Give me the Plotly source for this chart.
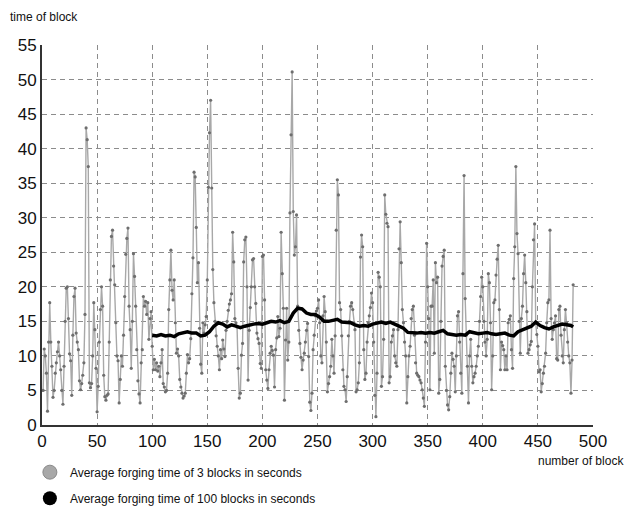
import plotly.graph_objects as go

# ---- data: average forging time of 3 blocks (gray), one value per block 1..482
gray_seg_a = [5, 11, 10, 7.5, 2, 12, 17.7, 12, 8.5, 4,
              5, 7.5, 9, 10.6, 12, 10, 8, 5, 3, 8.5,
              15, 19.8, 20, 15.4, 10.3, 9.3, 4.3, 13, 18.6, 19.8,
              13.3, 12, 10.9, 6.4, 5.1, 6, 7.2, 9, 16, 43,
              41.3, 37.4, 6.1, 5.4, 6, 10, 17.7, 13.8, 8.2, 1.9,
              5.6, 12, 16.7, 20, 17.2, 7.2, 4.1, 3.6, 4.3, 4.5,
              12, 21, 27.3, 28.2, 23, 20.3, 14.8, 10, 9.3, 3.2,
              6.6, 10, 8.5, 13, 18.6, 24.7, 27, 28.5, 17.2, 13.8,
              8.2, 15, 24.8, 21.5]
gray_seg_b = [17.2, 10.9, 6.4, 4.5, 3.2, 9, 10.9, 18.6, 17.2, 17.9,
              16, 17.7, 12.4, 15.4, 16.4, 11.4, 8, 9.5, 8, 9,
              7.8, 8.5, 7, 9, 10.9, 6, 5.5, 4.8, 5, 7.5,
              16.7, 21, 25.3, 19.5, 18.1, 21, 14.8, 10.4, 11, 10,
              6.6, 5.5, 4.6, 3.9, 4.2, 4.6, 7.5, 10.2, 9, 9.6,
              12.5, 19, 24.2, 36.6, 35.9, 28.6, 20.6, 23.5, 14, 8.8,
              7.5, 14.8, 13.3, 14.5, 15.7, 21, 34.4, 42.3, 47, 34.3,
              22.5, 17.7, 15, 12.9, 11.4, 10]
gray_seg_c = [8, 10.9, 9.6, 12.3, 11, 9.9, 13.7, 15, 16.6, 17.5,
              18.1, 19, 27.9, 23.6, 15.4, 14.8, 14.2, 8.2, 3.9, 4.6,
              10.1, 11.8, 23.6, 26.8, 27.2, 20, 6.5, 13.7, 17, 20,
              23.9, 24.1, 20, 17.6, 13.3, 12.5, 11.8, 8.9, 8.2, 24.4,
              24.6, 18.1, 8, 6.5, 5.3, 8, 10.4, 11.4, 10.8, 10.1,
              5.5, 10.9, 12.6, 15.7, 12.8, 14, 27.9, 21.9, 16.9, 3.6,
              12.3, 16.9, 9.4, 12, 30.7, 42, 51.1, 30.9, 24.6, 25.8,
              30.4, 17.2, 13.7, 11.8, 9.8, 8, 9.4, 10.4, 12, 13.7,
              14.7, 9.9, 3.3, 2.1, 4.6, 10.9]
gray_seg_d = [13, 15.8, 16.5, 16.9, 18.1, 14.8, 10, 9, 15.8, 18.6,
              16.4, 12, 4.8, 6, 7, 8.5, 12.4, 10, 7.5, 12.9,
              28.2, 35.5, 33.3, 17.7, 16.7, 12.9, 8, 5.6, 5.1, 3.4,
              7, 12.9, 15, 17.2, 17.7, 16.7, 14.8, 13.8, 4.8, 5.1,
              6.1, 9, 24.3, 27.5, 25.8, 10.9, 6.6, 7.5, 12, 14.8,
              15.8, 17, 19.1, 17.7, 12, 4.3, 1.2, 7.5, 22.1, 21.4,
              20, 5.6, 7, 12.4, 33.3, 30.5, 29.2, 28.7, 6.1, 7,
              12, 12.9, 13.8, 10, 9, 8.5, 13.8, 25.5, 29.4, 23.5,
              16.7, 14.8]
gray_seg_e = [12, 10, 3.2, 7, 10, 11.4, 15.4, 16.7, 17.2, 13,
              9, 7.5, 7.2, 7, 6.5, 6.1, 5.1, 3.9, 2.7, 12,
              26.3, 20, 15.4, 5.1, 17.2, 17.2, 21, 10.4, 23.5, 20.6,
              21.4, 4.6, 6.6, 15, 23, 24.4, 25.3, 8.5, 5, 2.9,
              2.2, 4.1, 7.5, 10.4, 9.5, 8.5, 4.8, 10, 15.8, 16.4,
              12, 7.5, 4.6, 21.9, 36.1, 18.3, 13, 8.5, 3.2, 10,
              12.4, 8.5, 6.1, 7, 7.5, 8.5, 10, 11.4, 15, 18.6,
              21.4, 20, 15, 12, 10, 12.4, 21.9, 20.6, 14.8, 5.1,
              10, 17.7]
gray_seg_f = [18.1, 21.7, 24, 26, 16.7, 8, 12, 11.5, 10.9, 8,
              10, 8, 14.8, 15.3, 15.8, 10.9, 8.2, 21.2, 25.8, 37.4,
              27.7, 24.8, 15, 10.4, 15.4, 17.2, 21.9, 24.6, 20.6, 16.4,
              10.4, 10.9, 11.6, 12.1, 20, 26.8, 29.1, 14.8, 13.1, 11.4,
              7.7, 8, 4.8, 6, 7.5, 8.5, 10.4, 14.8, 17.7, 18.1,
              28.2, 15.4, 12.4, 13.8, 14.8, 15.8, 9.6, 9.4, 16.7, 17.2,
              13, 10, 9, 13.8, 16.7, 14.8, 12, 10, 9, 4.6,
              9.4, 20.3]
avg3 = gray_seg_a + gray_seg_b + gray_seg_c + gray_seg_d + gray_seg_e + gray_seg_f
avg3_blocks = list(range(1, len(avg3) + 1))

# ---- data: average forging time of 100 blocks (black)
avg100_blocks = [100, 104, 108, 112, 116, 120, 124, 128, 132, 136, 140, 144, 148, 152,
                 156, 160, 164, 168, 172, 176, 180, 184, 188, 192, 196, 200, 204, 208,
                 212, 216, 220, 224, 228, 232, 236, 240, 244, 248, 252, 256, 260, 264,
                 268, 272, 276, 280, 284, 288, 292, 296, 300, 304, 308, 312, 316, 320,
                 324, 328, 332, 336, 340, 344, 348, 352, 356, 360, 364, 368, 372, 376,
                 380, 384, 388, 392, 396, 400, 404, 408, 412, 416, 420, 424, 428, 432,
                 436, 440, 444, 448, 452, 456, 460, 464, 468, 472, 476, 480, 482]
avg100 = [13.0, 12.9, 13.1, 12.9, 13.0, 12.8, 13.2, 13.4, 13.5, 13.3, 13.3, 12.9, 13.0, 13.5,
          14.3, 14.8, 14.6, 14.2, 14.5, 14.3, 14.1, 14.3, 14.5, 14.6, 14.7, 14.6, 14.8, 15.0,
          14.9, 15.1, 14.8, 15.0, 16.2, 16.9, 16.8, 16.2, 16.0, 16.0, 15.6, 15.0, 15.0, 15.2,
          15.3, 14.9, 14.8, 14.8, 14.5, 14.3, 14.4, 14.3, 14.6, 14.7, 14.9, 14.7, 14.9, 14.6,
          14.3, 14.0, 13.4, 13.3, 13.3, 13.4, 13.3, 13.4, 13.3, 13.5, 13.7, 13.2, 13.1, 13.0,
          13.1, 13.0, 13.5, 13.3, 13.2, 13.3, 13.4, 13.2, 13.1, 13.2, 13.3, 13.0, 12.9, 13.5,
          13.8, 14.0, 14.3, 14.9, 14.4, 14.1, 13.9, 14.2, 14.4, 14.6, 14.5, 14.4, 14.2]

x_ticks = [0, 50, 100, 150, 200, 250, 300, 350, 400, 450, 500]
y_ticks = [0, 5, 10, 15, 20, 25, 30, 35, 40, 45, 50, 55]
name3 = "Average forging time of 3 blocks in seconds"
name100 = "Average forging time of 100 blocks in seconds"

FONT = "Liberation Sans, Arial, sans-serif"

fig = go.Figure()
fig.add_trace(go.Scatter(
    x=avg3_blocks, y=avg3, mode="lines+markers", showlegend=False,
    line=dict(color="#a8a8a8", width=1.4),
    marker=dict(color="#6e6e6e", size=3.2),
))
fig.add_trace(go.Scatter(
    x=avg100_blocks, y=avg100, mode="lines", showlegend=False,
    line=dict(color="#000000", width=3.5),
))
# legend entries (circle symbols)
fig.add_trace(go.Scatter(
    x=[None], y=[None], mode="markers", name=name3, legendgroup="g3",
    marker=dict(color="#a8a8a8", size=14, line=dict(color="#8a8a8a", width=1)),
))
fig.add_trace(go.Scatter(
    x=[None], y=[None], mode="markers", name=name100, legendgroup="g100",
    marker=dict(color="#000000", size=14),
))

grid = dict(showgrid=True, gridcolor="#8c8c8c", gridwidth=1, griddash="5px,4px")
fig.update_xaxes(range=[0, 500], tickvals=x_ticks, ticks="", zeroline=False,
                 showline=True, linecolor="#333333", linewidth=1.5,
                 tickfont=dict(family=FONT, size=17, color="#111111"), **grid)
fig.update_yaxes(range=[0, 55], tickvals=y_ticks, ticks="", zeroline=False,
                 showline=True, linecolor="#333333", linewidth=2,
                 tickfont=dict(family=FONT, size=17, color="#111111"), **grid)

fig.update_layout(
    width=627, height=510,
    margin=dict(l=42, r=34, t=45, b=85, autoexpand=False),
    plot_bgcolor="white", paper_bgcolor="white",
    font=dict(family=FONT, color="#111111"),
    legend=dict(x=-0.022, xanchor="left", y=-0.086, yanchor="top",
                font=dict(family=FONT, size=12, color="#111111"),
                itemwidth=30, tracegroupgap=7, bgcolor="rgba(0,0,0,0)"),
    annotations=[
        dict(text="time of block", xref="paper", yref="paper",
             x=-0.062, y=1.074, xanchor="left", yanchor="middle", showarrow=False,
             font=dict(family=FONT, size=12, color="#111111")),
        dict(text="number of block", xref="paper", yref="paper",
             x=1.06, y=-0.094, xanchor="right", yanchor="middle", showarrow=False,
             font=dict(family=FONT, size=12, color="#111111")),
    ],
)

fig.write_html("out.html")
